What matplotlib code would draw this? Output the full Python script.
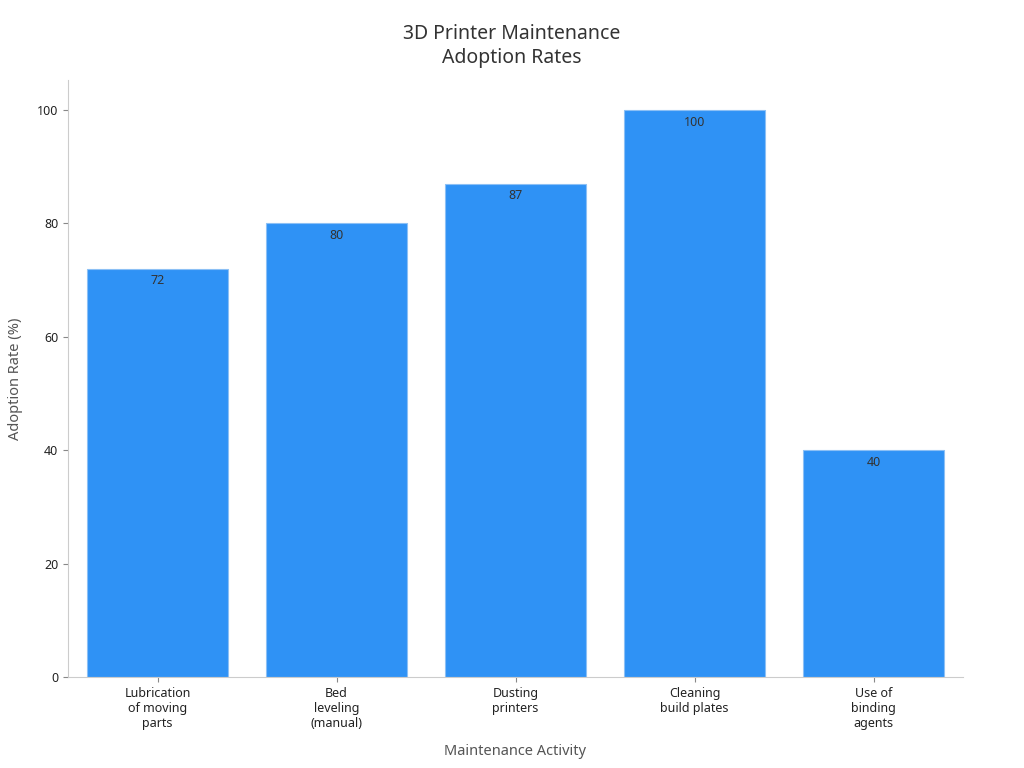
import matplotlib
matplotlib.use("Agg")
import matplotlib.pyplot as plt

plt.rcParams['font.family'] = ['Noto Sans', 'DejaVu Sans']

categories = ["Lubrication\nof moving\nparts", "Bed\nleveling\n(manual)", "Dusting\nprinters", "Cleaning\nbuild plates", "Use of\nbinding\nagents"]
values = [72, 80, 87, 100, 40]

fig = plt.figure(figsize=(10.24, 7.68), dpi=100)
ax = fig.add_axes([68/1024, 1-677/768, (963-68)/1024, (677-80)/768])
x = range(len(categories))
bars = ax.bar(x, values, width=0.79, color='#2f92f5', edgecolor='#8cc0f5', linewidth=0.8)
for xi, v in zip(x, values):
    ax.text(xi, v - 1.0, str(v), ha='center', va='top', fontsize=9, color='#333333')
ax.set_xlim(-0.5, 4.5)
ax.set_ylim(0, 105.3)
ax.set_xticks(list(x))
ax.set_xticklabels(categories, fontsize=9, color='#222222')
ax.set_yticks([0, 20, 40, 60, 80, 100])
ax.tick_params(axis='y', labelsize=9, colors='#222222')
ax.tick_params(axis='both', color='#888888')
for s in ['top', 'right']:
    ax.spines[s].set_visible(False)
for s in ['left', 'bottom']:
    ax.spines[s].set_color('#cccccc')
ax.set_xlabel("Maintenance Activity", fontsize=10.5, color='#555555', labelpad=10)
ax.set_ylabel("Adoption Rate (%)", fontsize=10.5, color='#555555', labelpad=10)
fig.text(0.5, 1-46/768, "3D Printer Maintenance\nAdoption Rates", ha='center', va='center', fontsize=14, color='#333333', linespacing=1.3)
fig.savefig("out.png", dpi=100)
